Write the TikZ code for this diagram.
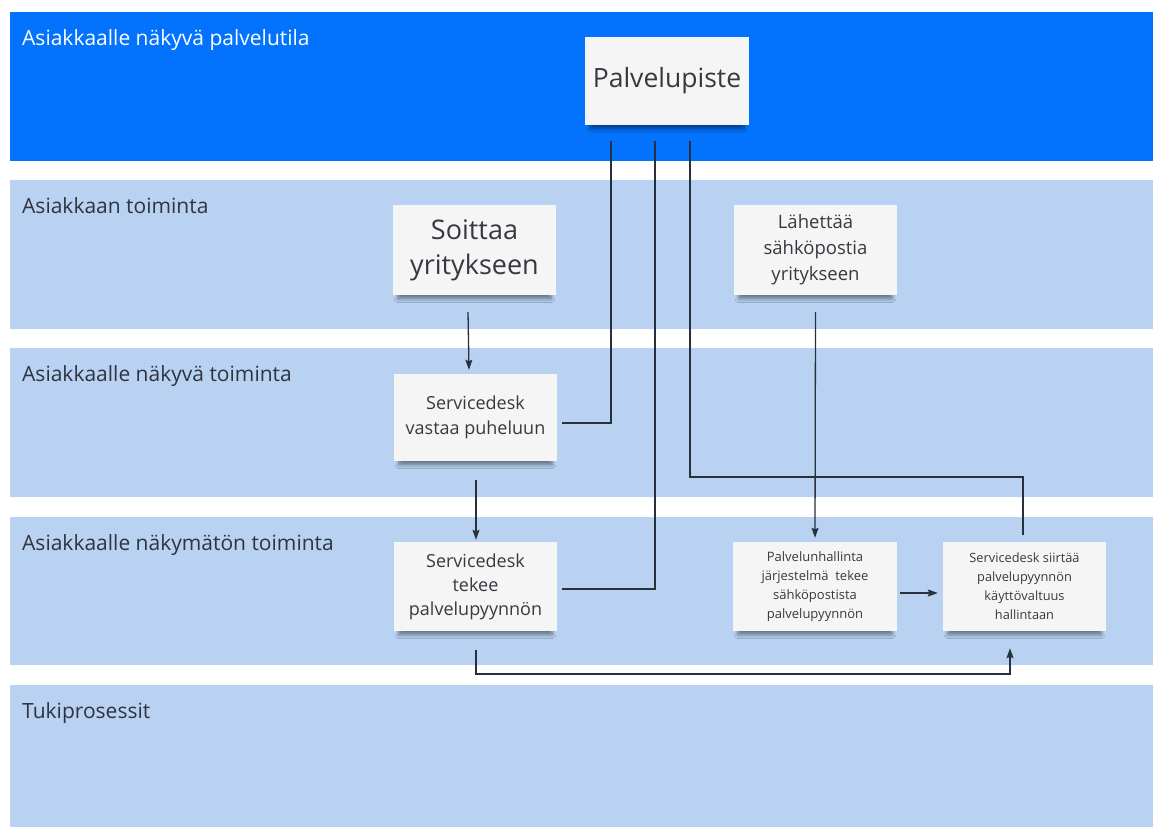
\documentclass[tikz,border=0pt]{standalone}
\usepackage{fontspec}
\setmainfont{Open Sans}
\usetikzlibrary{arrows.meta,shadows.blur}

\definecolor{topband}{HTML}{0373FD}
\definecolor{laneband}{HTML}{B9D2F2}
\definecolor{notefill}{HTML}{F5F5F5}
\definecolor{notetext}{HTML}{363A40}
\definecolor{lanetext}{HTML}{2E3440}
\definecolor{wire}{HTML}{27303D}

\tikzset{
  lane/.style={fill=laneband, draw=none},
  lanelabel/.style={anchor=base west, inner sep=0pt, text=lanetext,
    font=\fontsize{21}{25}\selectfont},
  note/.style={fill=notefill, draw=none, align=center, text=notetext,
    minimum width=163pt, minimum height=89pt, inner sep=2pt,
    blur shadow={shadow xshift=0pt, shadow yshift=-7pt, shadow scale=0.94,
      shadow opacity=45, shadow blur radius=4pt, shadow blur steps=6}},
  wireline/.style={draw=wire, line width=1.3pt},
  flow/.style={wireline, -{Stealth[length=10pt,width=7pt,inset=1.5pt]}},
}

\begin{document}
\begin{tikzpicture}[x=1pt,y=-1pt]
  \useasboundingbox (0,0) rectangle (1153,827);
  \fill[white] (0,0) rectangle (1153,827);

  % swimlanes
  \fill[topband] (10,12) rectangle (1153,161);
  \fill[lane] (10,180) rectangle (1153,329);
  \fill[lane] (10,348) rectangle (1153,497);
  \fill[lane] (10,517) rectangle (1153,665);
  \fill[lane] (10,685) rectangle (1153,827);

  \node[lanelabel, text=white] (l1) at (22,45) {Asiakkaalle näkyvä palvelutila};
  \node[lanelabel] (l2) at (22,213) {Asiakkaan toiminta};
  \node[lanelabel] (l3) at (22,381) {Asiakkaalle näkyvä toiminta};
  \node[lanelabel] (l4) at (22,550) {Asiakkaalle näkymätön toiminta};
  \node[lanelabel] (l5) at (22,718) {Tukiprosessit};

  % sticky notes
  \node[note, minimum width=164pt, minimum height=88pt,
        font=\fontsize{26.5}{30}\selectfont] (palv) at (667,81) {Palvelupiste};
  \node[note, minimum height=90pt, font=\fontsize{27}{35}\selectfont]
        (soittaa) at (474.5,250) {Soittaa\\yritykseen};
  \node[note, minimum height=90pt, font=\fontsize{18.5}{26}\selectfont]
        (lahettaa) at (815.5,250) {Lähettää\\sähköpostia\\yritykseen};
  \node[note, minimum height=87pt, font=\fontsize{18}{25}\selectfont]
        (vastaa) at (475.5,417.5) {Servicedesk\\vastaa puheluun};
  \node[note, font=\fontsize{18}{24}\selectfont]
        (tekee) at (475.5,586.5) {Servicedesk\\tekee\\palvelupyynnön};
  \node[note, minimum width=164pt, font=\fontsize{13}{19}\selectfont]
        (hallinta) at (815,586.5) {Palvelunhallinta\\järjestelmä~ tekee\\sähköpostista\\palvelupyynnön};
  \node[note, font=\fontsize{12.8}{19}\selectfont]
        (siirtaa) at (1024.5,586.5) {Servicedesk siirtää\\palvelupyynnön\\käyttövaltuus\\hallintaan};

  % turning heights of the routed connectors
  \coordinate (turnC) at (0,477);
  \coordinate (turnLoop) at (0,674);

  % phone path
  \draw[flow] ([xshift=-6.5pt,yshift=-17pt]soittaa.south)
           -- ([xshift=-6.5pt,yshift=4pt]vastaa.north);
  \draw[flow] ([xshift=0.5pt,yshift=-19pt]vastaa.south)
           -- ([xshift=0.5pt,yshift=2pt]tekee.north);

  % e-mail path
  \draw[flow] ([yshift=-17pt]lahettaa.south)
           -- ([yshift=4pt]hallinta.north);
  \draw[flow] ([xshift=3pt,yshift=-6.5pt]hallinta.east)
           -- ([xshift=-5pt,yshift=-6.5pt]siirtaa.west);

  % lines from the service point
  \draw[wireline] ([xshift=-56pt,yshift=-16pt]palv.south)
           |- ([xshift=5pt,yshift=-5.5pt]vastaa.east);
  \draw[wireline] ([xshift=-12pt,yshift=-16pt]palv.south)
           |- ([xshift=5pt,yshift=-2.5pt]tekee.east);
  \draw[wireline] ([xshift=23pt,yshift=-16pt]palv.south)
           -- ([xshift=23pt]palv.south |- turnC)
           -| ([xshift=-1.5pt,yshift=7pt]siirtaa.north);

  % hand-over to access management
  \draw[flow] ([xshift=0.5pt,yshift=-19pt]tekee.south)
           -- ([xshift=0.5pt]tekee.south |- turnLoop)
           -| ([xshift=-14.5pt,yshift=-17pt]siirtaa.south);
\end{tikzpicture}
\end{document}
